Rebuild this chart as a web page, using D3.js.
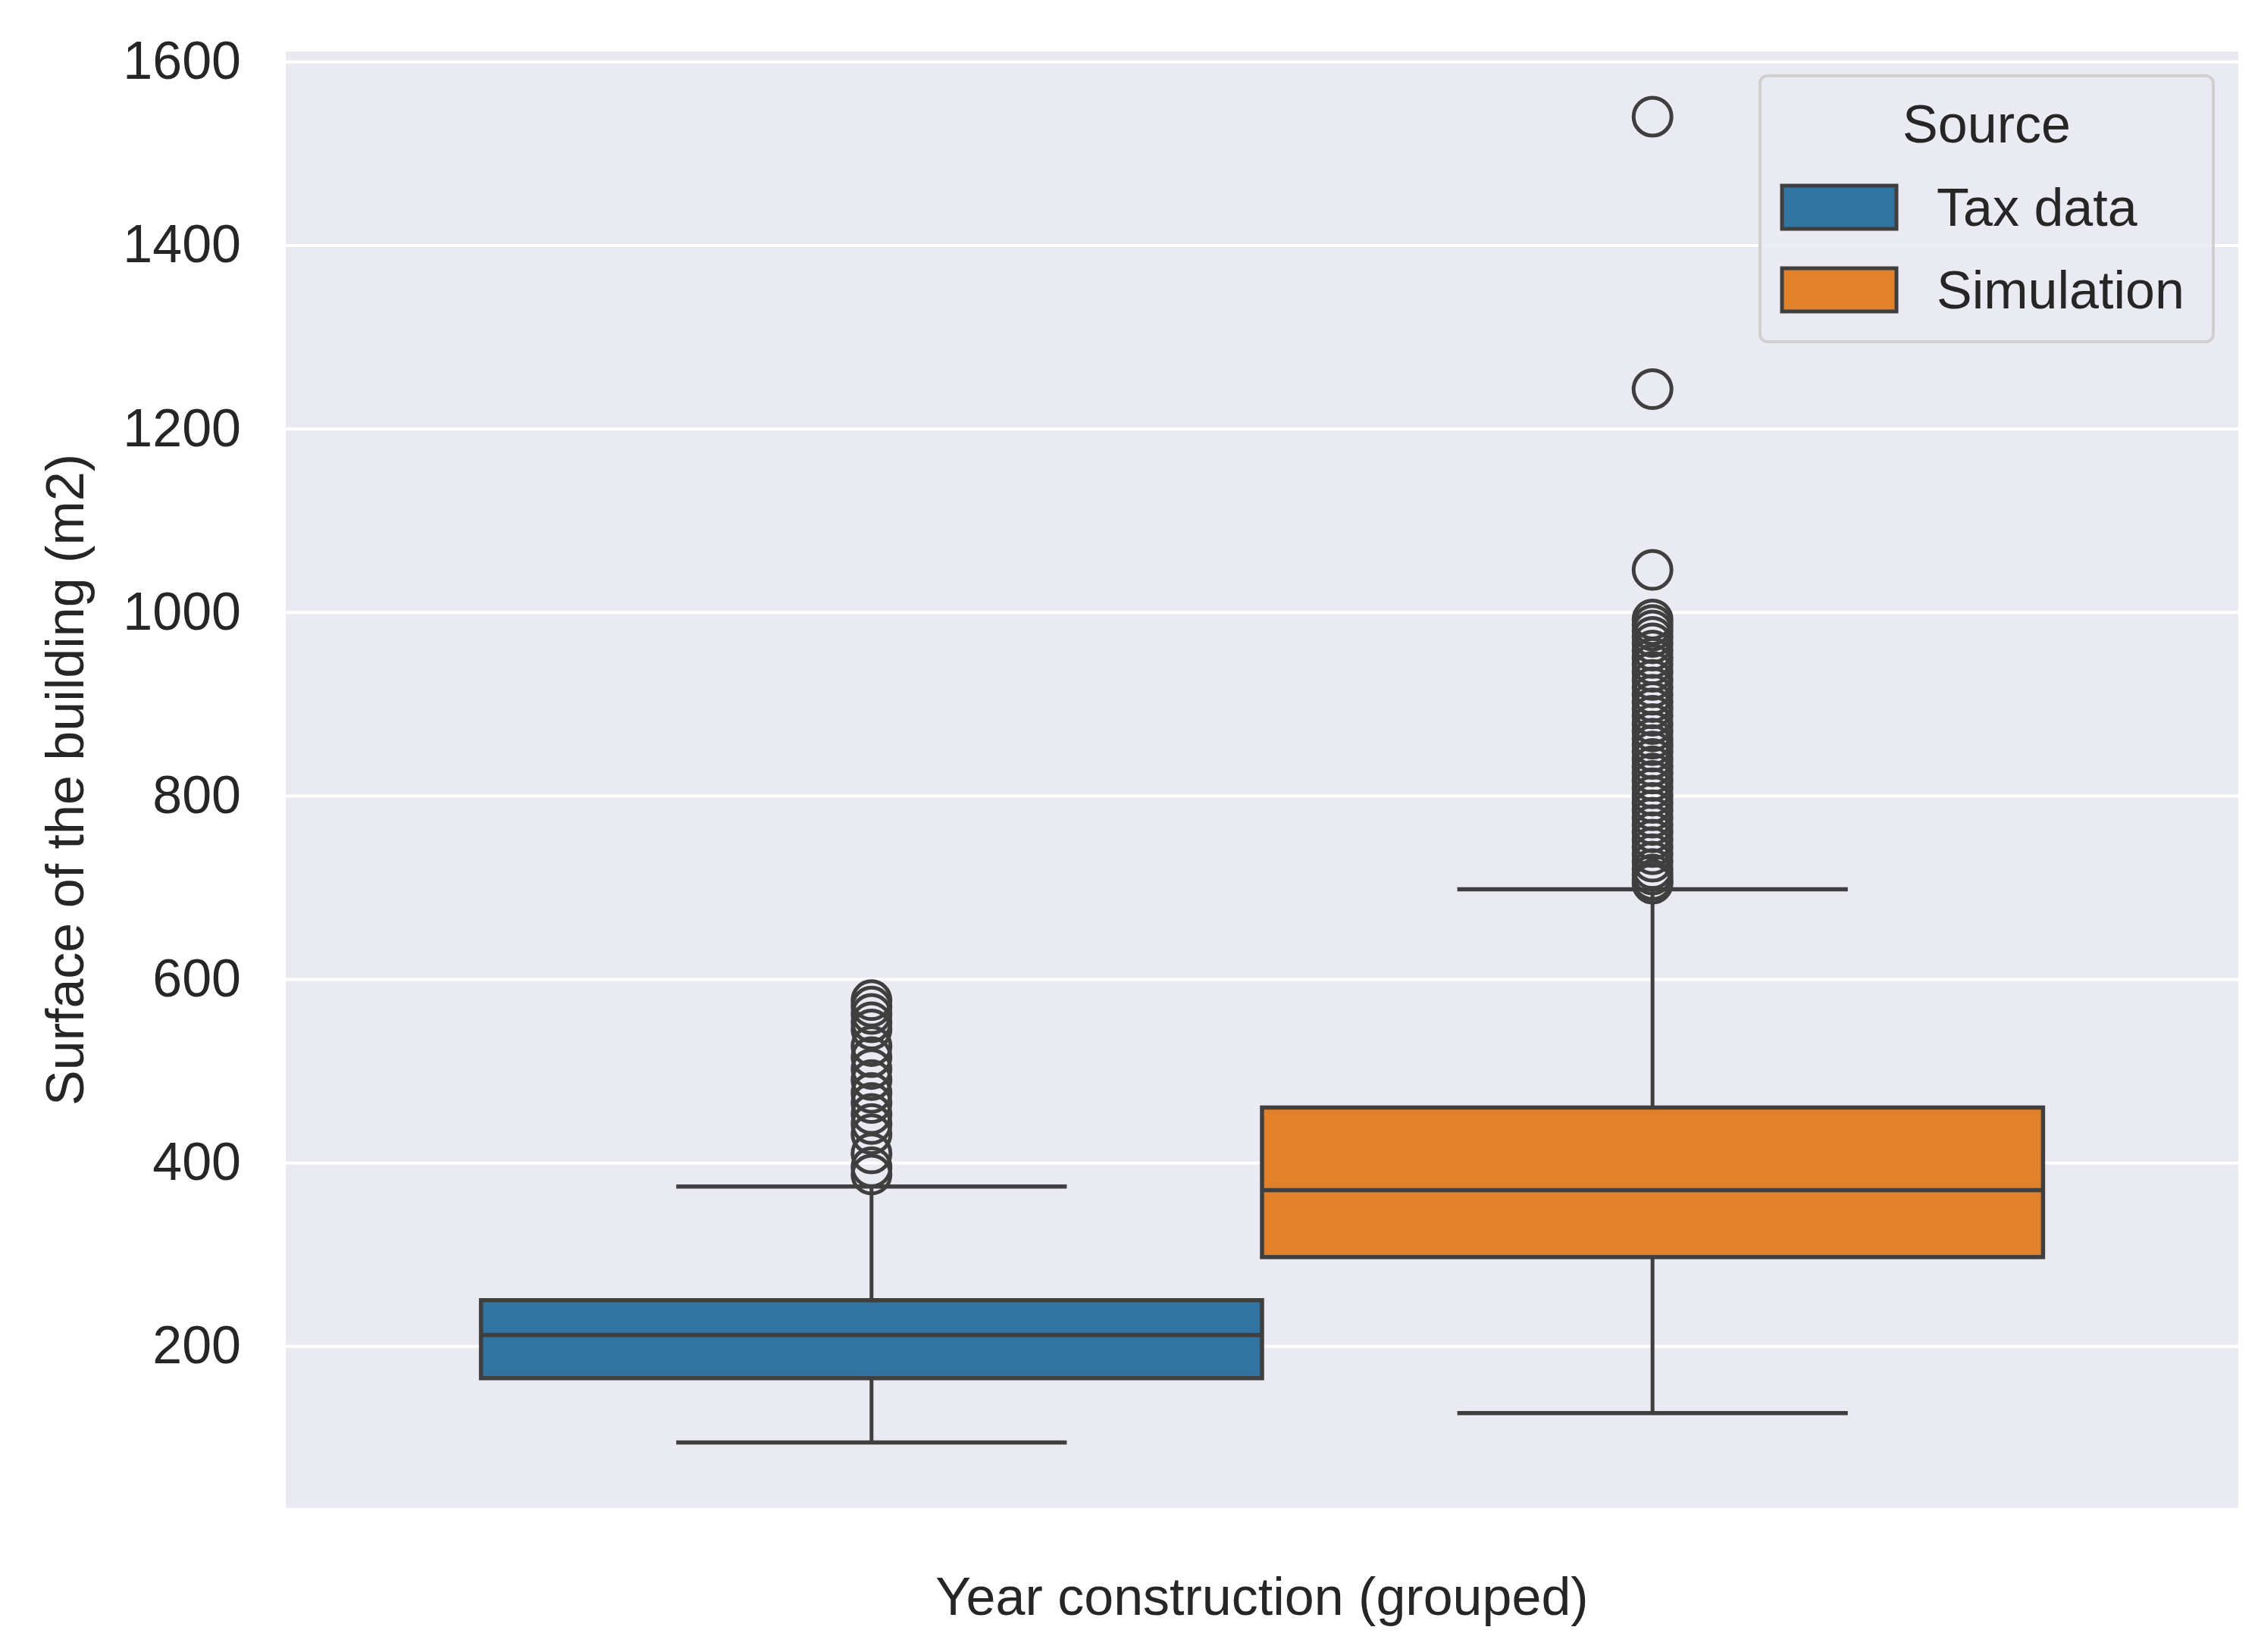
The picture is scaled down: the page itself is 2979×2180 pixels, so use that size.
<!DOCTYPE html>
<html>
<head>
<style>
  body{
    margin: 0;
    background: white;
    font-family: 'Liberation Sans', Arial, sans-serif;
  }
</style>
</head>
<body>
  <svg id='svgVis'></svg>

<script src="https://cdn.jsdelivr.net/npm/d3@7/dist/d3.min.js"></script>
<script>

// values
var sources = ["Tax data", "Simulation"];
var colors = ["#3274A1", "#E1812C"];
var whiskerLow = [95, 127];
var q1 = [165, 297];
var median = [212, 370];
var q3 = [250, 460];
var whiskerHigh = [374, 698];
var taxOutliers = [577, 570, 562, 553, 545, 527, 515, 502, 490, 476, 465, 453, 442, 431, 410, 395, 387];
var simOutliers = [1540, 1243, 1046, 992, 986, 980, 973, 966, 958, 950, 943, 935, 926, 918, 910, 902, 895, 887, 878, 870, 862, 855, 848, 840, 832, 824, 816, 808, 800, 792, 784, 776, 768, 760, 752, 744, 736, 728, 720, 714, 708, 704];
var yTicks = [200, 400, 600, 800, 1000, 1200, 1400, 1600];
var yLabel = "Surface of the building (m2)";
var xLabel = "Year construction (grouped)";
var legendTitle = "Source";

var outliers = [taxOutliers, simOutliers];

var width = 2979,
    height = 2180;

var margin = {top: 68, right: 26, bottom: 190, left: 377},
    plotW = width - margin.left - margin.right,
    plotH = height - margin.top - margin.bottom;

var lineColor = "#3f3f3f";
var textColor = "#262626";
var fontSize = 70;

var svg = d3.select("#svgVis")
    .attr("width", width)
    .attr("height", height);

var g = svg.append("g")
    .attr("transform", "translate(" + margin.left + "," + margin.top + ")");

var y = d3.scaleLinear()
    .domain([23.5, 1611])
    .range([plotH, 0]);

// one category on x, spanning -0.5..0.5; the hues are dodged inside 0.8 of it
var xCat = d3.scaleLinear()
    .domain([-0.5, 0.5])
    .range([0, plotW]);

var x = d3.scaleBand()
    .domain(sources)
    .range([xCat(-0.4), xCat(0.4)])
    .paddingInner(0);

g.append("rect")
    .attr("width", plotW)
    .attr("height", plotH)
    .style("fill", "#eaeaf2");

var yAxis = g.append("g")
    .call(d3.axisLeft(y).tickValues(yTicks).tickSize(-plotW).tickPadding(59).tickFormat(d3.format("d")));

yAxis.select(".domain").remove();
yAxis.selectAll("line")
    .style("stroke", "white")
    .style("stroke-width", 4);
yAxis.selectAll("text")
    .style("font-family", "'Liberation Sans', Arial, sans-serif")
    .style("font-size", fontSize + "px")
    .style("fill", textColor);

var boxes = g.selectAll(".box")
    .data(sources)
    .enter()
    .append("g")
    .attr("class", "box");

var bw = x.bandwidth();

// whiskers
boxes.append("line")
    .attr("x1", function(d) { return x(d) + bw / 2; })
    .attr("x2", function(d) { return x(d) + bw / 2; })
    .attr("y1", function(d, i) { return y(whiskerLow[i]); })
    .attr("y2", function(d, i) { return y(whiskerHigh[i]); })
    .style("stroke", lineColor)
    .style("stroke-width", 5);

// caps
[whiskerLow, whiskerHigh].forEach(function(arr) {
  boxes.append("line")
    .attr("x1", function(d) { return x(d) + bw / 4; })
    .attr("x2", function(d) { return x(d) + bw * 3 / 4; })
    .attr("y1", function(d, i) { return y(arr[i]); })
    .attr("y2", function(d, i) { return y(arr[i]); })
    .style("stroke", lineColor)
    .style("stroke-width", 5.5);
});

boxes.append("rect")
    .attr("x", function(d) { return x(d); })
    .attr("width", bw)
    .attr("y", function(d, i) { return y(q3[i]); })
    .attr("height", function(d, i) { return y(q1[i]) - y(q3[i]); })
    .style("fill", function(d, i) { return colors[i]; })
    .style("stroke", lineColor)
    .style("stroke-width", 5.5);

boxes.append("line")
    .attr("x1", function(d) { return x(d); })
    .attr("x2", function(d) { return x(d) + bw; })
    .attr("y1", function(d, i) { return y(median[i]); })
    .attr("y2", function(d, i) { return y(median[i]); })
    .style("stroke", lineColor)
    .style("stroke-width", 5.5);

boxes.each(function(d, i) {
  d3.select(this).selectAll("circle")
    .data(outliers[i])
    .enter()
    .append("circle")
    .attr("cx", x(d) + bw / 2)
    .attr("cy", function(v) { return y(v); })
    .attr("r", 25)
    .style("fill", "none")
    .style("stroke", lineColor)
    .style("stroke-width", 5);
});

// axis labels
svg.append("text")
    .attr("transform", "translate(110," + (margin.top + plotH / 2) + ") rotate(-90)")
    .attr("text-anchor", "middle")
    .style("font-size", fontSize + "px")
    .style("fill", textColor)
    .text(yLabel);

svg.append("text")
    .attr("x", margin.left + plotW / 2)
    .attr("y", 2131)
    .attr("text-anchor", "middle")
    .style("font-size", fontSize + "px")
    .style("fill", textColor)
    .text(xLabel);

// legend
var legend = svg.append("g")
    .attr("transform", "translate(2322,100)");

legend.append("rect")
    .attr("width", 598)
    .attr("height", 351)
    .attr("rx", 10)
    .style("fill", "#eaeaf2")
    .style("fill-opacity", 0.8)
    .style("stroke", "#d0d0d0")
    .style("stroke-width", 4);

legend.append("text")
    .attr("x", 299)
    .attr("y", 88)
    .attr("text-anchor", "middle")
    .style("font-size", fontSize + "px")
    .style("fill", textColor)
    .text(legendTitle);

var items = legend.selectAll(".item")
    .data(sources)
    .enter()
    .append("g")
    .attr("class", "item")
    .attr("transform", function(d, i) { return "translate(0," + (145 + i * 109) + ")"; });

items.append("rect")
    .attr("x", 29)
    .attr("width", 151)
    .attr("height", 57)
    .style("fill", function(d, i) { return colors[i]; })
    .style("stroke", lineColor)
    .style("stroke-width", 5);

items.append("text")
    .attr("x", 233)
    .attr("y", 53)
    .style("font-size", fontSize + "px")
    .style("fill", textColor)
    .text(function(d) { return d; });

</script>
</body>
</html>
